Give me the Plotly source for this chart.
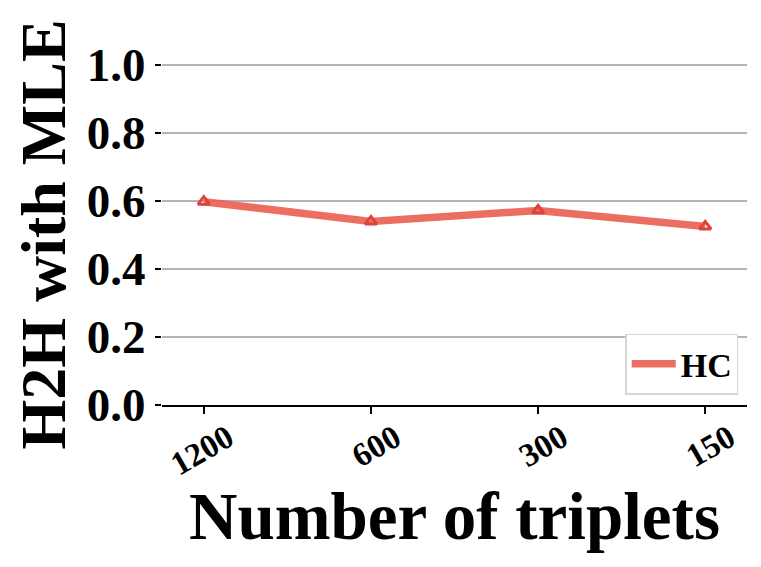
import plotly.graph_objects as go

categories = ["1200", "600", "300", "150"]
hc_values = [0.598, 0.540, 0.572, 0.525]
y_ticks = [0.0, 0.2, 0.4, 0.6, 0.8, 1.0]
y_tick_labels = ["0.0", "0.2", "0.4", "0.6", "0.8", "1.0"]
x_title = "Number of triplets"
y_title = "H2H with MLE"

font_family = "Liberation Serif"
line_color = "rgba(234,98,86,0.92)"
marker_color = "#E0433A"

fig = go.Figure()
fig.add_trace(go.Scatter(
    x=list(range(len(categories))),
    y=hc_values,
    mode="lines+markers",
    name="<b>HC</b>",
    showlegend=False,
    line=dict(color=line_color, width=7.5),
    marker=dict(symbol="triangle-up-open", size=10, color=marker_color,
                line=dict(width=3, color=marker_color)),
))
# legend entry (line only, as in the reference)
fig.add_trace(go.Scatter(
    x=[None], y=[None], mode="lines", name="<b>HC</b>",
    line=dict(color=line_color, width=7.5),
    showlegend=True,
))

# the page body has an 8px margin; offset margins accordingly
fig.update_layout(
    width=761, height=567,
    margin=dict(l=154, r=22, t=56, b=170),
    plot_bgcolor="white", paper_bgcolor="white",
    font=dict(family=font_family, color="black"),
    showlegend=True,
    legend=dict(
        x=0.985, y=0.03, xanchor="right", yanchor="bottom",
        bgcolor="white", bordercolor="#D6D6D6", borderwidth=1.5,
        font=dict(size=34, family=font_family, color="black"),
        itemwidth=44,
    ),
    xaxis=dict(
        range=[-0.25, 3.25],
        tickmode="array",
        tickvals=list(range(len(categories))),
        ticktext=["<b>%s</b>" % c for c in categories],
        tickangle=-30,
        tickfont=dict(size=33, family=font_family),
        ticklabelshift=24,
        ticklabelstandoff=-8,
        ticks="outside", ticklen=7, tickwidth=1.5, tickcolor="black",
        showline=True, linecolor="black", linewidth=1.5,
        showgrid=False, zeroline=False,
        automargin=False,
    ),
    yaxis=dict(
        range=[0, 1.003],
        tickmode="array",
        tickvals=y_ticks,
        ticktext=["<b>%s</b>" % t for t in y_tick_labels],
        tickfont=dict(size=47, family=font_family),
        ticks="outside", ticklen=6, tickwidth=1.5, tickcolor="black",
        showline=False,
        showgrid=True, gridcolor="#B4B4B4", gridwidth=1.8,
        zeroline=False,
        automargin=False,
        title=dict(text="<b>%s</b>" % y_title,
                   font=dict(size=64, family=font_family), standoff=18),
    ),
    annotations=[dict(
        text="<b>%s</b>" % x_title, xref="paper", yref="paper",
        x=0.5, y=-0.325, xanchor="center", yanchor="middle",
        showarrow=False, font=dict(size=67, family=font_family, color="black"),
    )],
)

fig.write_html("out.html")
